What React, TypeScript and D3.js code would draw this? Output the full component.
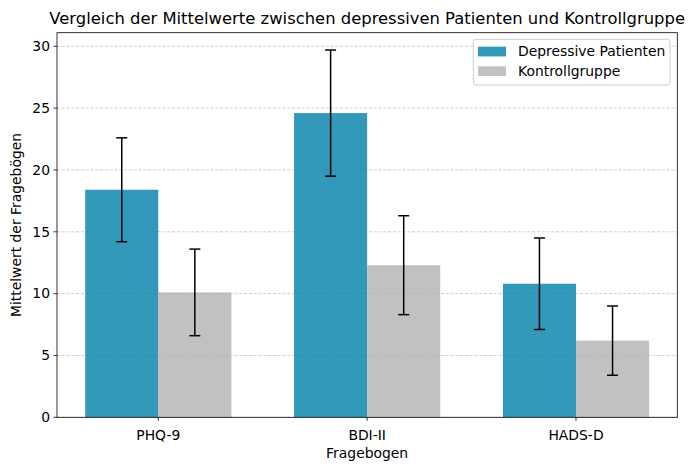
import React from "react";
import * as d3 from "d3";

const categories = ["PHQ-9", "BDI-II", "HADS-D"];
const seriesNames = ["Depressive Patienten", "Kontrollgruppe"];
const depMeans = [18.4, 24.6, 10.8];
const depSD = [4.2, 5.1, 3.7];
const ctrlMeans = [10.1, 12.3, 6.2];
const ctrlSD = [3.5, 4.0, 2.8];
const yTicks = [0, 5, 10, 15, 20, 25, 30];
const colors = ["#0080AA", "#B2B2B2"];

const W = 699, H = 470;
const left = 57, right = 677.3, top = 32.7, bottom = 417.3;
const FONT = "DejaVu Sans, sans-serif";

export default function App() {
  const barW = 0.35;
  const x = d3.scaleLinear().domain([-0.485, 2.485]).range([left, right]);
  const y = d3.scaleLinear().domain([0, 31.1]).range([bottom, top]);
  const series = [
    { means: depMeans, sd: depSD, off: -barW / 2 },
    { means: ctrlMeans, sd: ctrlSD, off: barW / 2 },
  ];
  const cap = 5.5;
  return (
    <svg width={W} height={H} style={{ position: "absolute", left: 0, top: 0, background: "#fff" }} fontFamily={FONT}>
      <rect x={0} y={0} width={W} height={H} fill="#fff" />
      {yTicks.map((t) => (
        <line key={"g" + t} x1={left} x2={right} y1={y(t)} y2={y(t)} stroke="#a8a8a8" strokeOpacity={0.7} strokeWidth={0.8} strokeDasharray="3,1.8" />
      ))}
      {series.map((s, si) =>
        categories.map((c, i) => {
          const cx = i + s.off;
          return (
            <rect key={"b" + si + i} x={x(cx - barW / 2)} width={x(cx + barW / 2) - x(cx - barW / 2)} y={y(s.means[i])} height={y(0) - y(s.means[i])} fill={colors[si]} fillOpacity={0.8} />
          );
        })
      )}
      {series.map((s, si) =>
        categories.map((c, i) => {
          const px = x(i + s.off);
          const yt = y(s.means[i] + s.sd[i]);
          const yb = y(s.means[i] - s.sd[i]);
          return (
            <g key={"e" + si + i} stroke="#000" strokeWidth={1.5}>
              <line x1={px} x2={px} y1={yt} y2={yb} />
              <line x1={px - cap} x2={px + cap} y1={yt} y2={yt} />
              <line x1={px - cap} x2={px + cap} y1={yb} y2={yb} />
            </g>
          );
        })
      )}
      <rect x={left} y={top} width={right - left} height={bottom - top} fill="none" stroke="#000" strokeWidth={0.8} />
      {yTicks.map((t) => (
        <g key={"yt" + t}>
          <line x1={left - 3.5} x2={left} y1={y(t)} y2={y(t)} stroke="#000" strokeWidth={0.8} />
          <text x={left - 7} y={y(t)} dy="0.35em" textAnchor="end" fontSize={13.9} fill="#000">{t}</text>
        </g>
      ))}
      {categories.map((c, i) => (
        <g key={"xt" + c}>
          <line x1={x(i)} x2={x(i)} y1={bottom} y2={bottom + 3.5} stroke="#000" strokeWidth={0.8} />
          <text x={x(i)} y={bottom + 18} dy="0.35em" textAnchor="middle" fontSize={13.9} fill="#000">{c}</text>
        </g>
      ))}
      <text x={(left + right) / 2} y={458} textAnchor="middle" fontSize={13.9} fill="#000">Fragebogen</text>
      <text transform={`translate(21,${(top + bottom) / 2}) rotate(-90)`} textAnchor="middle" fontSize={13.9} fill="#000">Mittelwert der Fragebögen</text>
      <text x={(left + right) / 2} y={24} textAnchor="middle" fontSize={16.4} fill="#000">Vergleich der Mittelwerte zwischen depressiven Patienten und Kontrollgruppe</text>
      <rect x={473.3} y={39.3} width={196.7} height={45.7} rx={2.5} fill="#fff" fillOpacity={0.8} stroke="#cccccc" strokeWidth={1} />
      {seriesNames.map((n, i) => (
        <g key={"l" + n}>
          <rect x={478} y={46.7 + i * 19.6} width={28} height={9.7} fill={colors[i]} fillOpacity={0.8} />
          <text x={518} y={51.5 + i * 19.6} dy="0.35em" fontSize={13.9} fill="#000">{n}</text>
        </g>
      ))}
    </svg>
  );
}
